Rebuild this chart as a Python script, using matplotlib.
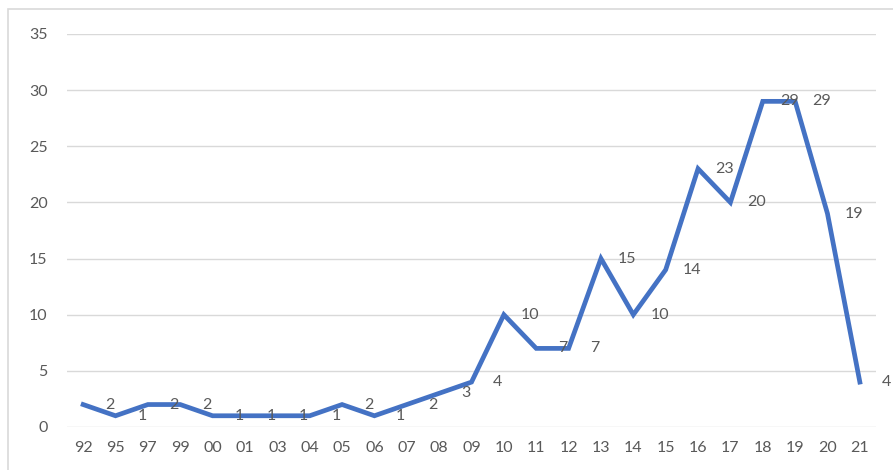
import matplotlib
matplotlib.use("Agg")
import matplotlib.pyplot as plt
from matplotlib.patches import Rectangle

### --- data
years = ["92", "95", "97", "99", "00", "01", "03", "04", "05", "06", "07", "08", "09",
         "10", "11", "12", "13", "14", "15", "16", "17", "18", "19", "20", "21"]
counts = [2, 1, 2, 2, 1, 1, 1, 1, 2, 1, 2, 3, 4,
          10, 7, 7, 15, 10, 14, 23, 20, 29, 29, 19, 4]
y_ticks = [0, 5, 10, 15, 20, 25, 30, 35]

line_color = "#4472C4"
text_color = "#595959"
grid_color = "#D9D9D9"

plt.rcParams["font.family"] = ["Lato", "DejaVu Sans"]

fig = plt.figure(figsize=(8.93, 4.70), dpi=100)
ax = fig.add_axes([0.075, 0.0915, 0.906, 0.8362])

x = list(range(len(years)))
ax.plot(x, counts, color=line_color, linewidth=3.4, solid_joinstyle="miter", zorder=3)

# labels sit to the right of each point, Excel style
for xi, v in zip(x, counts):
    ax.annotate(str(v), (xi, v), xytext=(19, 0), textcoords="offset points",
                ha="center", va="center", fontsize=11.5, color=text_color, zorder=4)

ax.set_xlim(-0.5, len(years) - 0.5)
ax.set_ylim(0, 35)
ax.set_yticks(y_ticks)
ax.set_xticks(x)
ax.set_xticklabels(years)
ax.tick_params(axis="both", length=0, labelsize=11.5, labelcolor=text_color)
ax.tick_params(axis="x", pad=10)
ax.tick_params(axis="y", pad=14)
ax.grid(axis="y", color=grid_color, linewidth=1.0)
ax.set_axisbelow(True)
for s in ax.spines.values():
    s.set_visible(False)

# outer chart border (left/top only visible in the crop)
fig.patches.append(Rectangle((8 / 893, -0.1), 1.2, 1 - 9 / 470 + 0.1,
                             transform=fig.transFigure, fill=False,
                             edgecolor=grid_color, linewidth=1.2))

fig.savefig("out.png", dpi=100)
